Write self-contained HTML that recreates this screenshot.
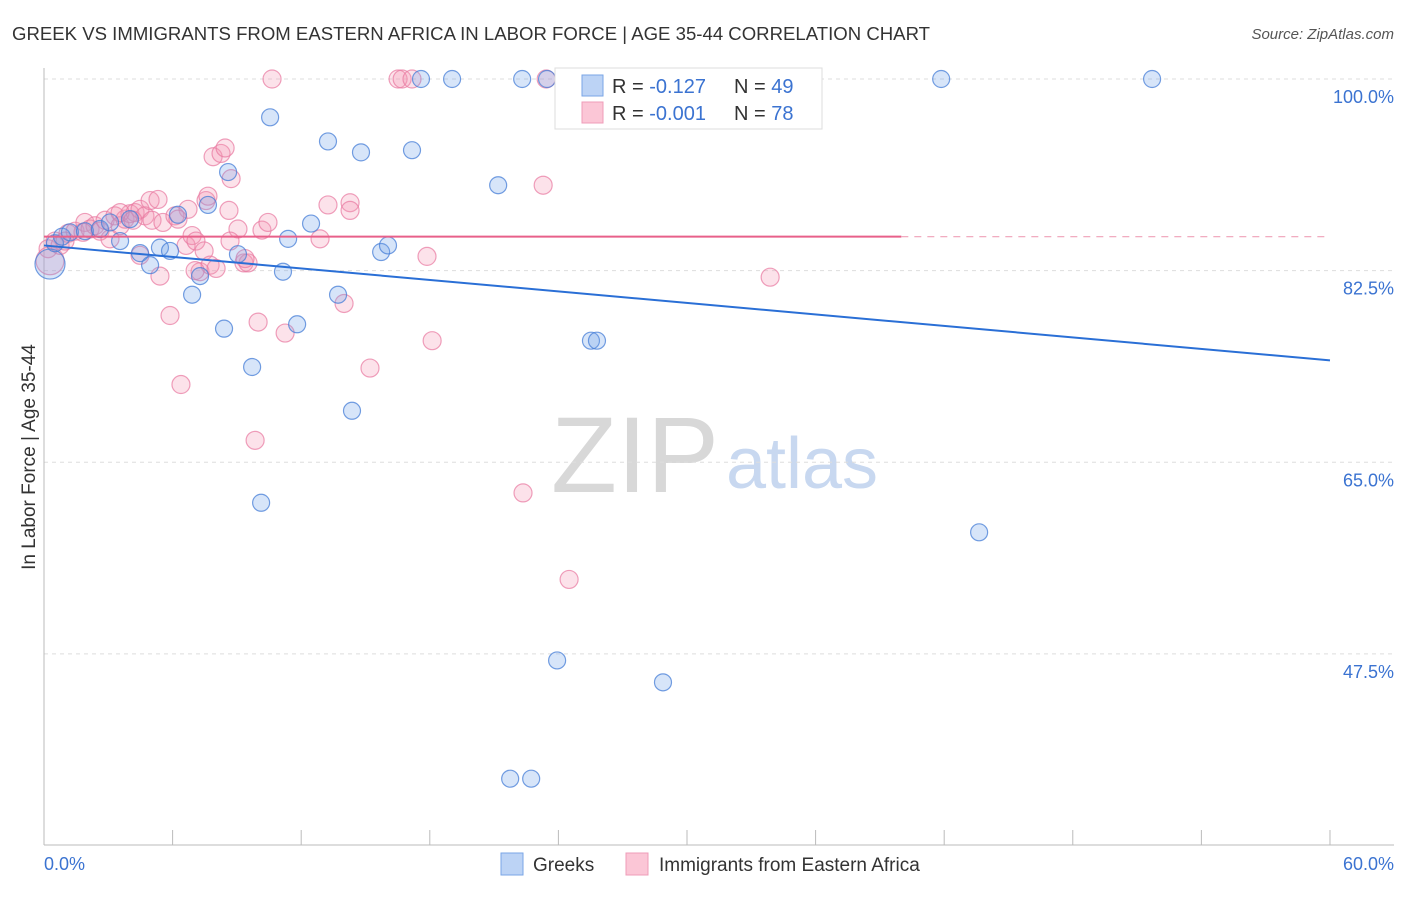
<!DOCTYPE html>
<html><head><meta charset="utf-8"><style>
body{margin:0;background:#fff;font-family:"Liberation Sans",sans-serif;}
svg text{font-family:"Liberation Sans",sans-serif;}
</style></head><body>
<svg id="chart" width="1406" height="892">
<text x="12" y="40" font-size="18" fill="#333" textLength="918" lengthAdjust="spacingAndGlyphs">GREEK VS IMMIGRANTS FROM EASTERN AFRICA IN LABOR FORCE | AGE 35-44 CORRELATION CHART</text>
<text x="1394" y="39" font-size="15" fill="#555" text-anchor="end" font-style="italic">Source: ZipAtlas.com</text>
<text x="635" y="492" font-size="108" fill="#d8d8d8" text-anchor="middle" font-family="Liberation Serif, serif">ZIP</text>
<text x="802" y="488" font-size="72" fill="#c8d8f0" text-anchor="middle">atlas</text>
<g id="grid"></g>
<g id="axes"></g>
<g id="pts"></g>
<g id="lines"></g>
<text x="35" y="457" font-size="19" fill="#333" text-anchor="middle" transform="rotate(-90 35 457)">In Labor Force | Age 35-44</text>
<g>
<rect x="555" y="68" width="267" height="61" fill="#fff" stroke="#ddd"/>
<rect x="582" y="75" width="21" height="21" fill="#bcd3f5" stroke="#7aa6e6"/>
<rect x="582" y="102" width="21" height="21" fill="#fbc6d6" stroke="#ef9cb8"/>
<text x="612" y="93" font-size="20" fill="#333">R = <tspan fill="#3b73d1"> -0.127</tspan></text>
<text x="734" y="93" font-size="20" fill="#333">N = <tspan fill="#3b73d1">49</tspan></text>
<text x="612" y="120" font-size="20" fill="#333">R = <tspan fill="#3b73d1">-0.001</tspan></text>
<text x="734" y="120" font-size="20" fill="#333">N = <tspan fill="#3b73d1">78</tspan></text>
</g>
<g><rect x="501" y="853" width="22" height="22" fill="#bcd3f5" stroke="#7aa6e6"/><text x="533" y="871" font-size="19" fill="#333">Greeks</text></g>
<g><rect x="626" y="853" width="22" height="22" fill="#fbc6d6" stroke="#ef9cb8"/><text x="659" y="871" font-size="19" fill="#333">Immigrants from Eastern Africa</text></g>
</svg>
<script>
const yTicks=[100,82.5,65,47.5];
const yTickLabels=["100.0%","82.5%","65.0%","47.5%"];
const xTickLabels=["0.0%","60.0%"];
const greekX=[0.28,0.51,0.84,1.21,1.91,2.61,3.08,4.01,3.55,4.48,4.95,5.41,5.88,6.25,6.91,7.28,7.65,8.40,8.59,9.05,9.71,10.13,10.55,11.15,11.39,11.81,12.46,13.25,13.72,14.37,14.79,15.73,16.05,17.17,17.59,19.04,21.19,21.75,22.31,22.73,23.47,23.94,25.01,25.52,25.8,28.88,41.86,43.63,51.7];
const greekY=[83.1,85.0,85.6,86.0,86.1,86.3,86.9,87.2,85.2,84.1,83.0,84.6,84.3,87.6,80.3,82.0,88.5,77.2,91.5,84.0,73.7,61.3,96.5,82.4,85.4,77.6,86.8,94.3,80.3,69.7,93.3,84.2,84.8,93.5,100,100,90.3,36.1,100,36.1,100,46.9,100,76.1,76.1,44.9,100,58.6,100];
const immX=[0.19,0.28,0.51,0.75,1.12,1.45,1.91,2.15,2.38,2.61,2.85,3.08,3.31,3.55,3.78,4.01,4.25,4.48,4.71,4.95,5.04,5.32,5.55,4.48,5.41,5.88,6.39,6.63,6.72,6.91,7.09,7.28,7.47,7.56,7.75,7.89,8.03,8.26,8.45,8.63,8.73,9.05,9.33,9.52,9.85,9.99,10.17,10.45,10.64,11.25,12.88,13.25,14.0,14.28,14.28,15.21,16.52,16.71,17.17,17.87,18.11,22.35,23.29,23.43,24.5,30.47,33.08,33.88,1.82,0.98,3.55,6.11,7.05,7.65,9.38,8.68,6.25,4.15];
const immY=[84.5,83.4,85.2,84.8,85.9,86.1,86.9,86.3,86.6,86.1,87.1,85.4,87.5,86.6,87.2,87.7,87.8,88.1,87.5,88.9,87.1,89.0,86.9,83.9,82.0,78.4,72.1,84.8,88.1,85.7,85.2,82.4,84.3,88.9,83.0,92.9,82.7,93.2,93.7,88.0,90.9,86.3,83.2,83.2,67.0,77.8,86.2,86.9,100,76.8,85.4,88.5,79.5,88.7,88.0,73.6,100,100,100,83.8,76.1,62.2,90.3,100,54.3,100,100,81.9,86.0,85.2,87.8,87.5,82.5,89.3,83.6,85.2,87.2,87.1];
const greekTrend=[84.8,74.3];
const immTrend=[85.6,85.6];
const NS="http://www.w3.org/2000/svg";
const X=v=>44+v*21.433, Y=v=>79+(100-v)*10.95;
function mk(t,a,p){const e=document.createElementNS(NS,t);for(const k in a)e.setAttribute(k,a[k]);p.appendChild(e);return e;}
const grid=document.getElementById('grid'),axes=document.getElementById('axes'),pts=document.getElementById('pts'),lines=document.getElementById('lines');
yTicks.forEach((v,i)=>{
 const l=mk('line',{x1:44,x2:1394,y1:Y(v),y2:Y(v),stroke:'#ddd','stroke-dasharray':'4,4'},grid);
 
 
 const t=mk('text',{x:1394,y:Y(v)+24,'font-size':18,fill:'#3b73d1','text-anchor':'end'},axes);t.textContent=yTickLabels[i];
 
 
});
mk('line',{x1:44,x2:44,y1:68,y2:845,stroke:'#bbb'},axes);
mk('line',{x1:44,x2:1394,y1:845,y2:845,stroke:'#bbb'},axes);
for(let i=0;i<=10;i++){const tk=mk('line',{x1:X(i*6),x2:X(i*6),y1:830,y2:845,stroke:'#bbb'},axes);
 
 }
let t0=mk('text',{x:44,y:870,'font-size':18,fill:'#3b73d1'},axes);t0.textContent=xTickLabels[0];


let t1=mk('text',{x:1394,y:870,'font-size':18,fill:'#3b73d1','text-anchor':'end'},axes);t1.textContent=xTickLabels[1];


immX.forEach((x,i)=>{const c=mk('circle',{cx:X(x),cy:Y(immY[i]),r:i==1?14:9,fill:'rgba(243,150,180,0.28)',stroke:'rgba(232,120,160,0.7)','stroke-width':1.2},pts);
 
 });
greekX.forEach((x,i)=>{const c=mk('circle',{cx:X(x),cy:Y(greekY[i]),r:i==0?15:8.5,fill:'rgba(110,160,235,0.28)',stroke:'rgba(70,125,215,0.75)','stroke-width':1.2},pts);
 
 });
const gl=mk('line',{x1:X(0),y1:Y(greekTrend[0]),x2:X(60),y2:Y(greekTrend[1]),stroke:'#2a6fd6','stroke-width':2},lines);


const pl=mk('line',{x1:X(0),y1:Y(immTrend[0]),x2:X(40),y2:Y(immTrend[0]+(immTrend[1]-immTrend[0])*40/60),stroke:'#e8608a','stroke-width':2},lines);


const pd=mk('line',{x1:X(40),y1:Y(immTrend[0]),x2:X(60),y2:Y(immTrend[1]),stroke:'#efa0b8','stroke-width':1.2,'stroke-dasharray':'7,6'},lines);


</script>
</body></html>
